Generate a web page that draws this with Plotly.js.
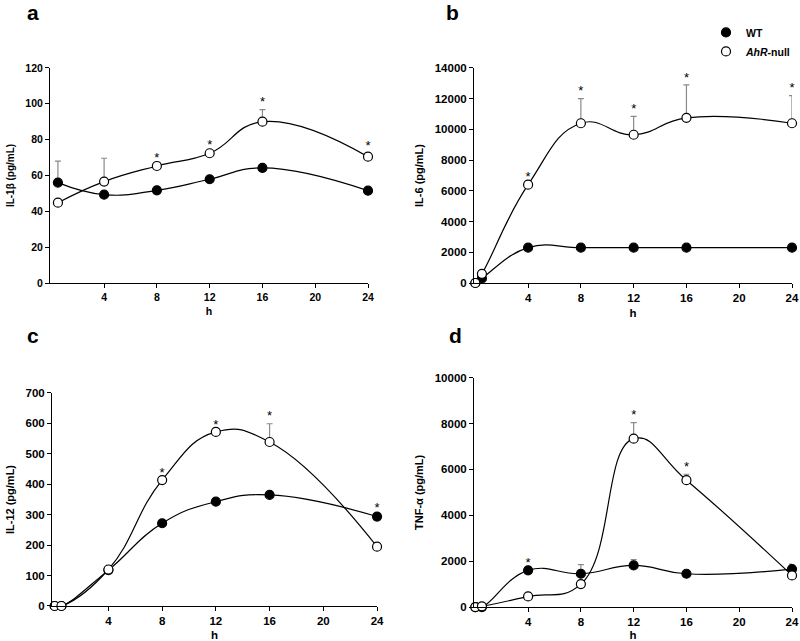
<!DOCTYPE html>
<html>
<head>
<meta charset="utf-8">
<script src="https://cdn.plot.ly/plotly-3.0.1.min.js"></script>
<style>
  html, body { margin: 0; padding: 0; background: #fff; }
  #plot { width: 800px; height: 641px; }
</style>
</head>
<body>
<div id="plot"></div>
<script>
// time points (h)
const hoursA = [0.5, 4, 8, 12, 16, 24];
const hours = [0, 0.5, 4, 8, 12, 16, 24];

// a: IL-1beta
const il1bWT = [56, 49.3, 51.7, 57.9, 64.2, 51.5];
const il1bWTErr = [12, 0, 1.5, 1.5, 1, 1];
const il1bKO = [44.8, 56.6, 65.3, 72.4, 90, 70.5];
const il1bKOErr = [0, 13, 0.5, 0.5, 6.7, 2];

// b: IL-6
const il6WT = [0, 300, 2300, 2300, 2300, 2300, 2300];
const il6WTErr = [0, 0, 0, 0, 0, 0, 0];
const il6KO = [0, 600, 6400, 10400, 9650, 10750, 10400];
const il6KOErr = [0, 0, 0, 1600, 1200, 2150, 1800];

// c: IL-12
const il12WT = [0, 0, 118, 272, 343, 365, 294];
const il12WTErr = [0, 0, 0, 0, 10, 5, 5];
const il12KO = [0, 0, 120, 414, 572, 539, 195];
const il12KOErr = [0, 0, 0, 0, 0, 60, 0];

// d: TNF-alpha
const tnfWT = [0, 0, 1600, 1450, 1814, 1450, 1654];
const tnfWTErr = [0, 0, 0, 400, 250, 0, 220];
const tnfKO = [0, 30, 464, 1000, 7342, 5530, 1380];
const tnfKOErr = [0, 0, 0, 0, 700, 260, 0];

// significance marks: which hours get a star, and on which series
const starsA = { ko: [8, 12, 16, 24], wt: [] };
const starsB = { ko: [4, 8, 12, 16, 24], wt: [] };
const starsC = { ko: [8, 12, 16], wt: [24] };
const starsD = { ko: [12, 16], wt: [4] };

const panels = [
    { ax: '', x: hoursA, wt: il1bWT, wtErr: il1bWTErr, ko: il1bKO, koErr: il1bKOErr, stars: starsA },
    { ax: '2', x: hours, wt: il6WT, wtErr: il6WTErr, ko: il6KO, koErr: il6KOErr, stars: starsB, legend: true },
    { ax: '3', x: hours, wt: il12WT, wtErr: il12WTErr, ko: il12KO, koErr: il12KOErr, stars: starsC },
    { ax: '4', x: hours, wt: tnfWT, wtErr: tnfWTErr, ko: tnfKO, koErr: tnfKOErr, stars: starsD }
];

const traces = [];
panels.forEach(p => {
    const xa = 'x' + p.ax, ya = 'y' + p.ax;
    const lineStyle = { color: '#000', width: 1.2, shape: 'spline', smoothing: 1.3 };
    [p.wt, p.ko].forEach(vals => {
        traces.push({ x: p.x, y: vals, xaxis: xa, yaxis: ya, mode: 'lines',
            line: lineStyle, showlegend: false, hoverinfo: 'skip', cliponaxis: false });
    });
    const series = [
        { vals: p.wt, err: p.wtErr, fill: '#000', name: 'WT' },
        { vals: p.ko, err: p.koErr, fill: '#fff', name: '<i>AhR</i>-null' }
    ];
    series.forEach(s => {
        traces.push({
            x: p.x, y: s.vals, xaxis: xa, yaxis: ya, mode: 'markers', name: s.name,
            showlegend: !!p.legend, cliponaxis: false,
            marker: { size: 9, color: s.fill, line: { color: '#000', width: 1.2 } },
            error_y: { type: 'data', symmetric: false, array: s.err,
                arrayminus: s.err.map(() => 0), color: '#8a8a8a', thickness: 1.2, width: 3 }
        });
    });
    // stars above the error bar tops
    const sx = [], sy = [];
    ['wt', 'ko'].forEach(k => {
        const vals = k === 'wt' ? p.wt : p.ko;
        const err = k === 'wt' ? p.wtErr : p.koErr;
        p.stars[k].forEach(h => {
            const i = p.x.indexOf(h);
            sx.push(h);
            sy.push(vals[i] + err[i]);
        });
    });
    traces.push({ x: sx, y: sy, xaxis: xa, yaxis: ya, mode: 'text', text: sx.map(() => '*'),
        textposition: 'top center', textfont: { family: 'Liberation Sans, Arial', size: 13, color: '#000' },
        showlegend: false, hoverinfo: 'skip', cliponaxis: false });
});

const font = size => ({ family: 'Liberation Sans, Arial', size: size, color: '#000', weight: 'bold' });

function xAxis(domain, anchor, range, fs) {
    return {
        domain: domain, anchor: anchor, range: range,
        tickvals: [4, 8, 12, 16, 20, 24], ticks: 'outside', ticklen: 4, tickcolor: '#000',
        showline: true, linecolor: '#000', linewidth: 1, showgrid: false, zeroline: false,
        tickfont: font(fs), title: { text: 'h', font: font(fs), standoff: 6 }
    };
}
function yAxis(domain, anchor, range, dtick, title, fs) {
    return {
        domain: domain, anchor: anchor, range: range, dtick: dtick, tickformat: 'd',
        ticks: 'outside', ticklen: 4, tickcolor: '#000',
        showline: true, linecolor: '#000', linewidth: 1, showgrid: false, zeroline: false,
        tickfont: font(fs), title: { text: title, font: font(fs - 0.5), standoff: 8 }
    };
}

const letterFont = font(21);
const letter = (t, x, y) => ({ text: t, x: x, y: y, xref: 'paper', yref: 'paper',
    xanchor: 'center', yanchor: 'middle', showarrow: false, font: letterFont });

const layout = {
    width: 800, height: 641,
    margin: { l: 0, r: 0, t: 0, b: 0, autoexpand: false },
    paper_bgcolor: '#fff', plot_bgcolor: '#fff',
    xaxis: xAxis([0.0625, 0.46], 'y', [-0.1, 24], 10.5),
    yaxis: yAxis([0.5585, 0.894], 'x', [0, 120], 20, 'IL-1β (pg/mL)', 10.5),
    xaxis2: xAxis([0.5925, 0.99], 'y2', [-0.1, 24], 11.5),
    yaxis2: yAxis([0.5585, 0.894], 'x2', [0, 14000], 2000, 'IL-6 (pg/mL)', 11.5),
    xaxis3: xAxis([0.065, 0.4713], 'y3', [-0.2, 24], 11.5),
    yaxis3: yAxis([0.0546, 0.3869], 'x3', [0, 700], 100, 'IL-12 (pg/mL)', 11.5),
    xaxis4: xAxis([0.5925, 0.99], 'y4', [-0.1, 24], 11.5),
    yaxis4: yAxis([0.053, 0.4108], 'x4', [0, 10000], 2000, 'TNF-α (pg/mL)', 11.5),
    showlegend: true,
    legend: {
        x: 0.8825, y: 0.972, xanchor: 'left', yanchor: 'top',
        font: font(10.5),
        bgcolor: 'rgba(0,0,0,0)', itemwidth: 30, tracegroupgap: 0
    },
    annotations: [
        letter('a', 0.041, 0.981),
        letter('b', 0.566, 0.981),
        letter('c', 0.041, 0.477),
        letter('d', 0.569, 0.477)
    ]
};

Plotly.newPlot('plot', traces, layout, { displayModeBar: false, staticPlot: true });
</script>
</body>
</html>
